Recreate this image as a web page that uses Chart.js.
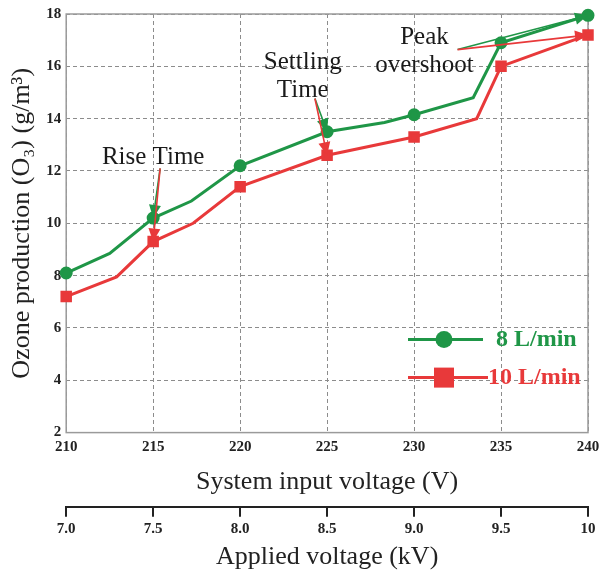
<!DOCTYPE html>
<html>
<head>
<meta charset="utf-8">
<script src="https://cdn.jsdelivr.net/npm/chart.js@4.4.0/dist/chart.umd.min.js"></script>
<style>
    html, body { margin: 0; padding: 0; background: #fff; }
    #wrap { width: 599px; height: 573px; }
</style>
</head>
<body>
<div id="wrap"><canvas id="ozoneChart"></canvas></div>
<script>
// vertices of the two curves, system input voltage (V) -> ozone (g/m3)
const voltage8 = [210, 212.5, 215, 217.2, 220, 225, 228.3, 230, 233.4, 235, 240];
const ozone8 = [8.1, 8.85, 10.2, 10.85, 12.2, 13.5, 13.85, 14.15, 14.8, 16.9, 17.95];
const voltage10 = [210, 212.9, 215, 217.3, 220, 225, 230, 233.6, 235, 240];
const ozone10 = [7.2, 7.95, 9.3, 10.0, 11.4, 12.6, 13.3, 14.0, 16.0, 17.2];
const seriesNames = ['8 L/min', '10 L/min'];
const markedVoltages = [210, 215, 220, 225, 230, 235, 240];
const kvTicks = [7.0, 7.5, 8.0, 8.5, 9.0, 9.5, 10];

const GREEN = '#1f9647';
const RED = '#e8393a';
const SERIF = 'Liberation Serif';

// text callouts: label lines, arrow origin and the points they point at
const callouts = [
    { lines: ['Rise Time'], textAt: [215.0, 12.5], from: [215.4, 12.1], targets: [[0, 2], [1, 2]] },
    { lines: ['Settling', 'Time'], textAt: [223.6, 16.14], from: [224.3, 14.77], targets: [[0, 5], [1, 5]] },
    { lines: ['Peak', 'overshoot'], textAt: [230.6, 17.1], from: [232.5, 16.64], targets: [[0, 10], [1, 9]] }
];

function toPoints(xs, ys) {
    return xs.map((x, i) => ({ x: x, y: ys[i] }));
}

function markerRadius(size) {
    return ctx => {
        const p = ctx.raw;
        return p && markedVoltages.includes(p.x) ? size : 0;
    };
}

function drawArrow(ctx, x0, y0, x1, y1, color) {
    const ang = Math.atan2(y1 - y0, x1 - x0);
    const len = 13, half = 6;
    ctx.save();
    ctx.strokeStyle = color;
    ctx.fillStyle = color;
    ctx.lineWidth = 1.6;
    ctx.beginPath();
    ctx.moveTo(x0, y0);
    ctx.lineTo(x1 - Math.cos(ang) * len * 0.8, y1 - Math.sin(ang) * len * 0.8);
    ctx.stroke();
    ctx.beginPath();
    ctx.moveTo(x1, y1);
    ctx.lineTo(x1 - Math.cos(ang) * len - Math.sin(ang) * half, y1 - Math.sin(ang) * len + Math.cos(ang) * half);
    ctx.lineTo(x1 - Math.cos(ang) * len + Math.sin(ang) * half, y1 - Math.sin(ang) * len - Math.cos(ang) * half);
    ctx.closePath();
    ctx.fill();
    ctx.restore();
}

const decorations = {
    id: 'decorations',
    beforeDatasetsDraw(chart) {
        const { ctx, chartArea: a } = chart;
        ctx.save();
        ctx.strokeStyle = '#9a9a9a';
        ctx.lineWidth = 1.5;
        ctx.strokeRect(a.left, a.top, a.right - a.left, a.bottom - a.top);
        ctx.restore();
    },
    afterDatasetsDraw(chart) {
        const { ctx, chartArea: a } = chart;
        const xs = chart.scales.x, ys = chart.scales.y;
        const colors = [GREEN, RED];

        // callouts
        callouts.forEach(c => {
            ctx.save();
            ctx.font = '25px "' + SERIF + '"';
            ctx.fillStyle = '#1a1a1a';
            ctx.textAlign = 'center';
            ctx.textBaseline = 'middle';
            const tx = xs.getPixelForValue(c.textAt[0]);
            let ty = ys.getPixelForValue(c.textAt[1]);
            c.lines.forEach(line => {
                ctx.fillText(line, tx, ty);
                ty += 28;
            });
            ctx.restore();
            const fx = xs.getPixelForValue(c.from[0]);
            const fy = ys.getPixelForValue(c.from[1]);
            c.targets.forEach(t => {
                const el = chart.getDatasetMeta(t[0]).data[t[1]];
                drawArrow(ctx, fx, fy, el.x, el.y, colors[t[0]]);
            });
        });

        // legend inside the plot, bottom right
        const lx0 = a.right - 180, lx1 = a.right - 105, mx = a.right - 144;
        const rows = [a.bottom - 93, a.bottom - 55];
        rows.forEach((y, i) => {
            ctx.save();
            ctx.strokeStyle = colors[i];
            ctx.fillStyle = colors[i];
            ctx.lineWidth = 3;
            ctx.beginPath();
            ctx.moveTo(lx0, y);
            ctx.lineTo(i === 0 ? lx1 : lx1 + 5, y);
            ctx.stroke();
            if (i === 0) {
                ctx.beginPath();
                ctx.arc(mx, y, 8.5, 0, Math.PI * 2);
                ctx.fill();
            } else {
                ctx.fillRect(mx - 10, y - 10, 20, 20);
            }
            ctx.font = 'bold 24px "' + SERIF + '"';
            ctx.textBaseline = 'middle';
            ctx.textAlign = 'left';
            ctx.fillText(seriesNames[i], i === 0 ? lx1 + 13 : lx1 + 5, y);
            ctx.restore();
        });
    }
};

const tickFont = { family: SERIF, size: 15, weight: 'bold' };
const titleFont = { family: SERIF, size: 26 };

// leave only as much room on the right as the last tick label needs
function tightRight(scale) {
    scale.paddingRight = 11;
}

new Chart(document.getElementById('ozoneChart'), {
    type: 'line',
    data: {
        datasets: [{
            label: seriesNames[0],
            data: toPoints(voltage8, ozone8),
            borderColor: GREEN,
            backgroundColor: GREEN,
            borderWidth: 3,
            tension: 0,
            pointStyle: 'circle',
            pointRadius: markerRadius(5),
            pointHoverRadius: markerRadius(5),
            clip: false
        }, {
            label: seriesNames[1],
            data: toPoints(voltage10, ozone10),
            borderColor: RED,
            backgroundColor: RED,
            borderWidth: 3,
            tension: 0,
            pointStyle: 'rect',
            pointRadius: markerRadius(6),
            pointHoverRadius: markerRadius(6),
            clip: false
        }]
    },
    options: {
        responsive: true,
        maintainAspectRatio: false,
        animation: false,
        layout: {
            padding: { top: 6, right: 0, left: 3, bottom: 0 }
        },
        plugins: {
            legend: { display: false },
            tooltip: { enabled: false }
        },
        scales: {
            x: {
                type: 'linear',
                position: 'bottom',
                min: 210,
                max: 240,
                afterFit: tightRight,
                grid: {
                    color: '#8c8c8c',
                    lineWidth: 1,
                    drawTicks: false
                },
                border: { display: false, dash: [4, 3] },
                ticks: {
                    stepSize: 5,
                    padding: 6,
                    color: '#222',
                    font: tickFont,
                    maxRotation: 0
                },
                title: {
                    display: true,
                    text: 'System input voltage (V)',
                    color: '#222',
                    font: titleFont,
                    padding: { top: 4, bottom: 9 }
                }
            },
            x2: {
                type: 'linear',
                axis: 'x',
                position: 'bottom',
                min: 7,
                max: 10,
                afterFit: tightRight,
                afterBuildTicks: axis => {
                    axis.ticks = kvTicks.map(v => ({ value: v }));
                },
                grid: {
                    drawOnChartArea: false,
                    drawTicks: true,
                    tickLength: 10,
                    color: '#222',
                    lineWidth: 2
                },
                border: { display: true, color: '#222', width: 2 },
                ticks: {
                    padding: 3,
                    color: '#222',
                    font: tickFont,
                    maxRotation: 0,
                    callback: v => (v === 10 ? '10' : v.toFixed(1))
                },
                title: {
                    display: true,
                    text: 'Applied voltage (kV)',
                    color: '#222',
                    font: titleFont,
                    padding: { top: 1, bottom: 0 }
                }
            },
            y: {
                min: 2,
                max: 18,
                grid: {
                    color: '#8c8c8c',
                    lineWidth: 1,
                    drawTicks: false
                },
                border: { display: false, dash: [4, 3] },
                ticks: {
                    stepSize: 2,
                    padding: 5,
                    color: '#222',
                    font: tickFont
                },
                title: {
                    display: true,
                    text: 'Ozone production (O\u2083) (g/m\u00b3)',
                    color: '#222',
                    font: titleFont,
                    padding: { top: 4, bottom: 3 }
                }
            }
        }
    },
    plugins: [decorations]
});
</script>
</body>
</html>
